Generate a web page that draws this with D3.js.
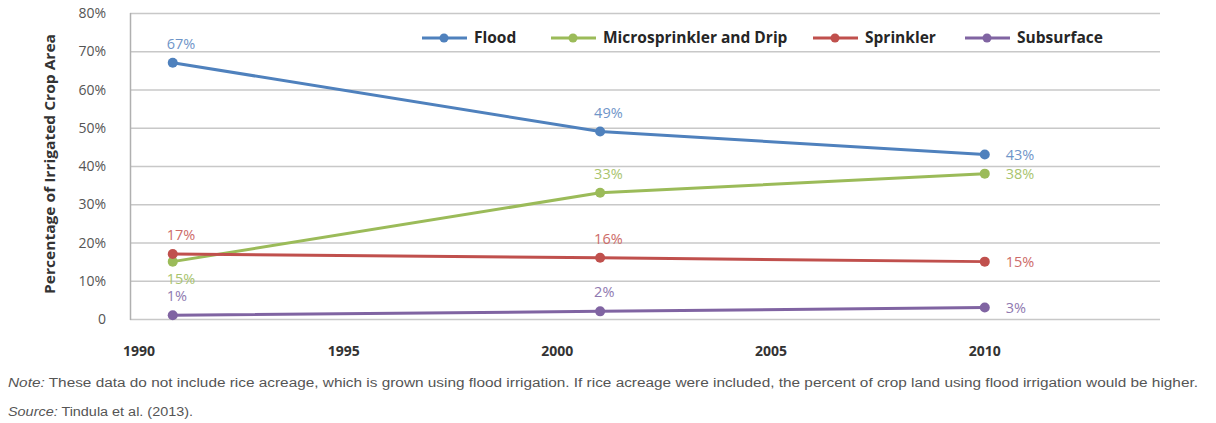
<!DOCTYPE html>
<html>
<head>
<meta charset="utf-8">
<script src="https://cdn.jsdelivr.net/npm/d3@7"></script>
<style>
  body { margin: 0; background: #fff; }
  svg { display: block; }
</style>
</head>
<body>
<script>
// chart values
const years = [1991, 2001, 2010];
const series = ["Flood", "Microsprinkler and Drip", "Sprinkler", "Subsurface"];
const flood = [67, 49, 43];
const micro = [15, 33, 38];
const sprinkler = [17, 16, 15];
const subsurface = [1, 2, 3];
const yTicks = [0, 10, 20, 30, 40, 50, 60, 70, 80];
const xTicks = [1990, 1995, 2000, 2005, 2010];

const colors = ["#4f81bd", "#9bbb59", "#c0504d", "#8064a2"];
const labelColors = ["#6f95c8", "#a9c46e", "#cd6b68", "#8f79b0"];
// where each value label sits relative to its point: "up", "down", "right"
const labelPos = [
  ["up", "up", "right"],
  ["down", "up", "right"],
  ["up", "up", "right"],
  ["up", "up", "right"]
];

const data = [flood, micro, sprinkler, subsurface].map((vals, i) => ({
  name: series[i],
  color: colors[i],
  labelColor: labelColors[i],
  values: vals.map((v, j) => ({ year: years[j], v: v, pos: labelPos[i][j] }))
}));

const w = 1216;
const h = 423;

const x = d3.scaleLinear().domain([1990, 2014.1]).range([130, 1160]);
const y = d3.scaleLinear().domain([0, 80]).range([319, 13]);

const svg = d3.select("body")
  .append("svg")
  .attr("width", w)
  .attr("height", h);

// gridlines
svg.append("g")
  .selectAll("line")
  .data(yTicks)
  .enter()
  .append("line")
  .attr("x1", x.range()[0])
  .attr("x2", x.range()[1])
  .attr("y1", d => y(d) + 0.5)
  .attr("y2", d => y(d) + 0.5)
  .attr("stroke", "#c8c8c8")
  .attr("stroke-width", 1.5);

// left axis line
svg.append("line")
  .attr("x1", 130.5).attr("x2", 130.5)
  .attr("y1", y(80)).attr("y2", y(0) + 1)
  .attr("stroke", "#b0b0b0")
  .attr("stroke-width", 1.5);

// y tick labels
svg.append("g")
  .selectAll("text")
  .data(yTicks)
  .enter()
  .append("text")
  .attr("x", 106)
  .attr("y", d => y(d) + 5)
  .attr("text-anchor", "end")
  .attr("font-family", "Open Sans, sans-serif")
  .attr("font-size", 14)
  .attr("fill", "#555")
  .text(d => d === 0 ? "0" : d + "%");

// x tick labels
svg.append("g")
  .selectAll("text")
  .data(xTicks)
  .enter()
  .append("text")
  .attr("x", d => x(d) + (d === 1990 ? 9 : 0))
  .attr("y", 356)
  .attr("text-anchor", "middle")
  .attr("font-family", "Open Sans, sans-serif")
  .attr("font-weight", "bold")
  .attr("font-size", 14)
  .attr("fill", "#333")
  .text(d => d);

// y axis title
svg.append("text")
  .attr("transform", "translate(55,164) rotate(-90)")
  .attr("text-anchor", "middle")
  .attr("font-family", "Open Sans, sans-serif")
  .attr("font-weight", "bold")
  .attr("font-size", 14)
  .attr("textLength", 260)
  .attr("lengthAdjust", "spacingAndGlyphs")
  .attr("fill", "#333")
  .text("Percentage of Irrigated Crop Area");

const line = d3.line()
  .x(d => x(d.year))
  .y(d => y(d.v));

const g = svg.append("g")
  .selectAll("g")
  .data(data)
  .enter()
  .append("g");

g.append("path")
  .attr("d", d => line(d.values))
  .attr("fill", "none")
  .attr("stroke", d => d.color)
  .attr("stroke-width", 3);

g.selectAll("circle")
  .data(d => d.values.map(v => ({ ...v, color: d.color })))
  .enter()
  .append("circle")
  .attr("cx", d => x(d.year))
  .attr("cy", d => y(d.v))
  .attr("r", 5)
  .attr("fill", d => d.color);

g.selectAll("text.lbl")
  .data(d => d.values.map(v => ({ ...v, color: d.labelColor })))
  .enter()
  .append("text")
  .attr("class", "lbl")
  .attr("x", d => d.pos === "right" ? x(d.year) + 21 : x(d.year) - 6)
  .attr("y", d => {
    if (d.pos === "up") return y(d.v) - 14;
    if (d.pos === "down") return y(d.v) + 22;
    return y(d.v) + 5;
  })
  .attr("font-family", "Open Sans, sans-serif")
  .attr("font-size", 14.5)
  .attr("fill", d => d.color)
  .text(d => d.v + "%");

// legend
const legendX = [422, 551, 813, 965];
const legend = svg.append("g")
  .selectAll("g")
  .data(data)
  .enter()
  .append("g")
  .attr("transform", (d, i) => "translate(" + legendX[i] + ",38)");

legend.append("line")
  .attr("x1", 0).attr("x2", 45)
  .attr("stroke", d => d.color)
  .attr("stroke-width", 3);

legend.append("circle")
  .attr("cx", 22)
  .attr("r", 4.5)
  .attr("fill", d => d.color);

legend.append("text")
  .attr("x", 52)
  .attr("y", 5)
  .attr("font-family", "Open Sans, sans-serif")
  .attr("font-weight", "bold")
  .attr("font-size", 15.5)
  .attr("fill", "#262626")
  .text(d => d.name);

// note and source
const note = svg.append("text")
  .attr("x", 8)
  .attr("y", 387)
  .attr("font-family", "Liberation Sans, Arial, sans-serif")
  .attr("font-size", 12)
  .attr("textLength", 1190)
  .attr("lengthAdjust", "spacingAndGlyphs")
  .attr("fill", "#555");
note.append("tspan").attr("font-style", "italic").text("Note:");
note.append("tspan").text(" These data do not include rice acreage, which is grown using flood irrigation. If rice acreage were included, the percent of crop land using flood irrigation would be higher.");

const src = svg.append("text")
  .attr("x", 8)
  .attr("y", 416)
  .attr("font-family", "Liberation Sans, Arial, sans-serif")
  .attr("font-size", 12)
  .attr("textLength", 185)
  .attr("lengthAdjust", "spacingAndGlyphs")
  .attr("fill", "#555");
src.append("tspan").attr("font-style", "italic").text("Source:");
src.append("tspan").text(" Tindula et al. (2013).");
</script>
</body>
</html>
